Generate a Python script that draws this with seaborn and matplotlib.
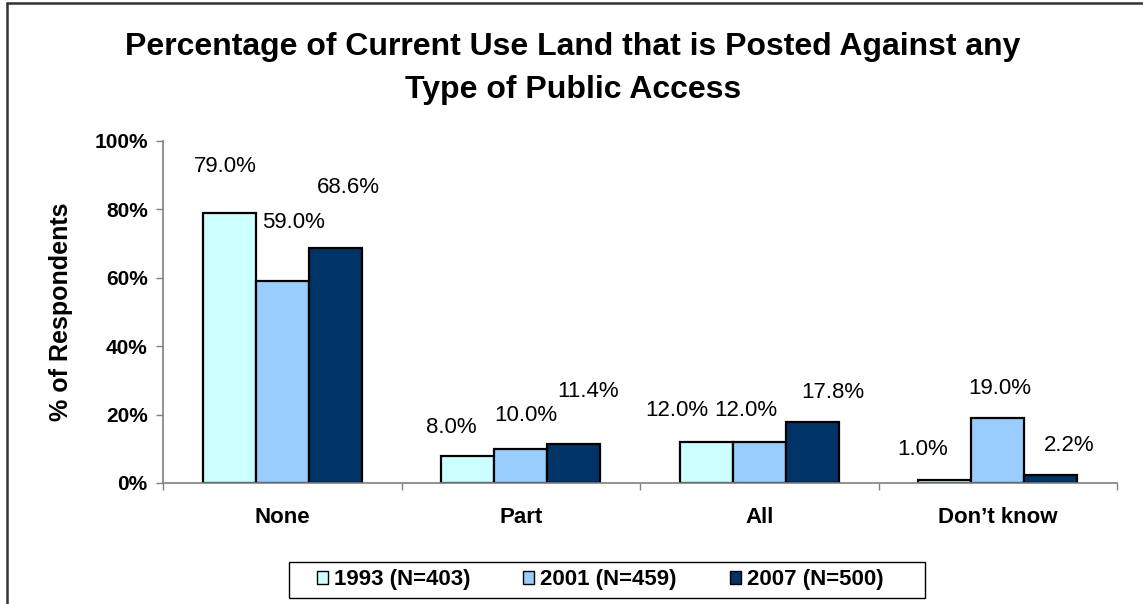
import matplotlib
matplotlib.use("Agg")
import matplotlib.pyplot as plt
from matplotlib.lines import Line2D
from matplotlib.patches import Patch, Rectangle
import seaborn as sns
import pandas as pd

categories = ["None", "Part", "All", "Don\u2019t know"]
years = ["1993 (N=403)", "2001 (N=459)", "2007 (N=500)"]
pct_1993 = [79.0, 8.0, 12.0, 1.0]
pct_2001 = [59.0, 10.0, 12.0, 19.0]
pct_2007 = [68.6, 11.4, 17.8, 2.2]
colors = ["#CCFFFF", "#99CCFF", "#003366"]

# label offsets (pixels) from each bar's top centre, per year, per category
label_dx = [[-4, -16, -29, -22], [11, 5, -13, 2], [13, 14, 21, 18]]
label_dy = [[46, 28, 31, 30], [59, 33, 31, 30], [61, 53, 30, 30]]

rows = []
for yr, vals in zip(years, [pct_1993, pct_2001, pct_2007]):
    for cat, v in zip(categories, vals):
        rows.append({"Category": cat, "Year": yr, "Percent": v})
df = pd.DataFrame(rows)

sns.set_theme(style="white")
plt.rcParams["font.family"] = ["Liberation Sans", "DejaVu Sans"]
plt.rcParams["text.color"] = "black"
plt.rcParams["axes.labelcolor"] = "black"
plt.rcParams["xtick.labelcolor"] = "black"
plt.rcParams["ytick.labelcolor"] = "black"

W, H = 1143, 604
fig = plt.figure(figsize=(W / 100, H / 100), dpi=100)
ax = fig.add_axes([163 / W, 1 - 483 / H, (1117 - 163) / W, (483 - 141) / H])

sns.barplot(data=df, x="Category", y="Percent", hue="Year", order=categories,
            hue_order=years, palette=colors, saturation=1, width=0.667,
            edgecolor="black", linewidth=1.6, ax=ax, legend=False)

ax.set_xlim(-0.5, 3.5)
ax.set_ylim(0, 100)
ax.set_yticks([0, 20, 40, 60, 80, 100])
ax.set_yticklabels([f"{t}%" for t in [0, 20, 40, 60, 80, 100]],
                   fontsize=15, fontweight="bold")
ax.set_xticks([-0.5, 0.5, 1.5, 2.5, 3.5], minor=True)
ax.set_xticks(range(len(categories)))
ax.set_xticklabels(categories, fontsize=16, fontweight="bold")
ax.tick_params(axis="x", which="major", length=0, pad=17, labelcolor="black")
ax.tick_params(axis="x", which="minor", length=5, color="#808080", width=1, direction="out")
ax.tick_params(axis="y", length=5, color="#808080", width=1, direction="out", pad=6,
               labelcolor="black")
ax.xaxis.set_ticks_position("bottom")
ax.yaxis.set_ticks_position("left")
for side in ["top", "right"]:
    ax.spines[side].set_visible(False)
for side in ["left", "bottom"]:
    ax.spines[side].set_color("#808080")
    ax.spines[side].set_linewidth(1.2)
ax.set_xlabel("")
ax.set_ylabel("% of Respondents", fontsize=18, fontweight="bold", color="black")
ax.yaxis.set_label_coords((73 - 163) / 954, 0.5)

# value labels
for i, cont in enumerate(ax.containers):
    for j, bar in enumerate(cont):
        h = bar.get_height()
        ax.annotate(f"{h:.1f}%", (bar.get_x() + bar.get_width() / 2, h),
                    xytext=(label_dx[i][j], label_dy[i][j]), textcoords="offset pixels",
                    ha="center", va="center", fontsize=16, color="black",
                    annotation_clip=False)

title_lines = ["Percentage of Current Use Land that is Posted Against any",
               "Type of Public Access"]
for line, base in zip(title_lines, [55, 98]):
    fig.text(573 / W, 1 - base / H, line, ha="center", va="baseline",
             fontsize=23, fontweight="bold", color="black")

# legend box and entries
fig.add_artist(Rectangle((289 / W, 1 - 598 / H), (925 - 289) / W, 36 / H,
                         transform=fig.transFigure, facecolor="white",
                         edgecolor="black", linewidth=1.0, zorder=1))
handles = [Patch(facecolor=c, edgecolor="black", linewidth=1.0) for c in colors]
leg = fig.legend(handles, years, loc="center", bbox_to_anchor=(600 / W, 1 - 580 / H),
                 ncol=3, frameon=False, prop={"weight": "bold", "size": 16},
                 handlelength=0.5, handleheight=0.5, handletextpad=0.25,
                 columnspacing=2.4, borderpad=0.2, labelcolor="black")
leg.set_zorder(2)

# outer chart border (left and top edges visible)
fig.add_artist(Line2D([7 / W, 7 / W], [0, 1 - 3 / H], transform=fig.transFigure,
                      color="#333333", linewidth=1.8))
fig.add_artist(Line2D([7 / W, 1], [1 - 3 / H, 1 - 3 / H], transform=fig.transFigure,
                      color="#333333", linewidth=1.8))

fig.savefig("out.png", dpi=100)
